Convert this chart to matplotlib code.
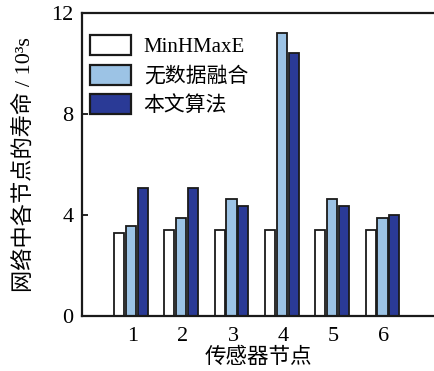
import numpy as np
import matplotlib.pyplot as plt

plt.rcParams['font.family'] = ['Liberation Serif', 'Noto Sans CJK SC']
plt.rcParams['axes.unicode_minus'] = False

# sensor nodes and lifetime (10^3 s) for each method
nodes = [1, 2, 3, 4, 5, 6]
minhmaxe = [3.27, 3.39, 3.39, 3.39, 3.39, 3.39]
no_fusion = [3.56, 3.88, 4.63, 11.2, 4.63, 3.88]
proposed = [5.06, 5.06, 4.37, 10.4, 4.37, 3.99]
labels = ['MinHMaxE', '无数据融合', '本文算法']

fig = plt.figure(figsize=(4.35, 3.71), dpi=100)
ax = fig.add_axes([0.1885, 0.148, 0.81, 0.817])

x = np.array(nodes)
w = 0.2
step = 0.235
ax.bar(x - 0.03 - step, minhmaxe, w, color='white', edgecolor='#1a1a1a', linewidth=1.3, label=labels[0])
ax.bar(x - 0.03, no_fusion, w, color='#9cc3e5', edgecolor='#1a1a1a', linewidth=1.3, label=labels[1])
ax.bar(x - 0.03 + step, proposed, w, color='#2a3a96', edgecolor='#1a1a1a', linewidth=1.3, label=labels[2])

ax.set_xlim(0, 7)
ax.set_ylim(0, 12)
ax.set_xticks(nodes)
ax.set_yticks([0, 4, 8, 12])
ax.tick_params(axis='y', direction='in', length=4, width=1.2, labelsize=16, pad=6)
ax.tick_params(axis='x', length=0, labelsize=16, pad=8)
ax.spines['right'].set_visible(False)
for s in ['left', 'top', 'bottom']:
    ax.spines[s].set_linewidth(1.6)
    ax.spines[s].set_color('#1a1a1a')

ax.set_xlabel('传感器节点', fontsize=15.5)
ax.set_ylabel('网络中各节点的寿命 / 10³s', fontsize=16)
ax.xaxis.set_label_coords(0.5, -0.105)
ax.yaxis.set_label_coords(-0.135, 0.5)

leg = ax.legend(loc='upper left', frameon=False, fontsize=15,
                bbox_to_anchor=(-0.02, 0.975), handlelength=2.0, handleheight=1.1,
                handletextpad=0.6, labelspacing=0.35, borderaxespad=0.3)
for p in leg.get_patches():
    p.set_linewidth(1.6)

fig.savefig('out.png', dpi=100)
